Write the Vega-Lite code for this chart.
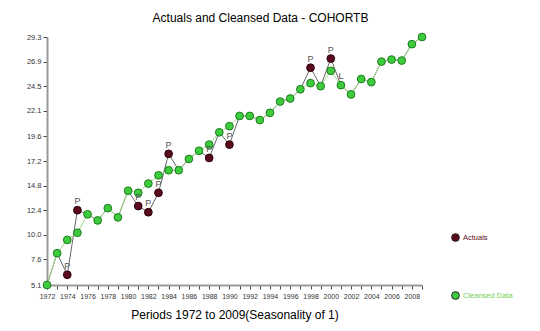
{
  "$schema": "https://vega.github.io/schema/vega-lite/v6.json",
  "width": 375,
  "height": 248,
  "autosize": {"type": "none"},
  "padding": {"left": 47, "top": 37, "right": 118, "bottom": 46},
  "background": "white",
  "title": {"text": "Actuals and Cleansed Data - COHORTB", "fontSize": 12, "fontWeight": "normal", "font": "Liberation Sans", "color": "#000", "anchor": "middle", "dx": 26, "offset": 6},
  "config": {
    "view": {"stroke": null},
    "axis": {"grid": false, "domainColor": "#999", "domainWidth": 2, "tickColor": "#444", "tickSize": 4, "labelFont": "Liberation Sans", "labelFontSize": 7, "labelColor": "#333", "titleFont": "Liberation Sans", "labelOverlap": false, "labelFlush": false}
  },
  "data": {"values": [
    {"year": 1972, "cleansed": 5.1, "actual": 5.1, "flag": ""},
    {"year": 1973, "cleansed": 8.2, "actual": 8.2, "flag": ""},
    {"year": 1974, "cleansed": 9.5, "actual": 6.1, "flag": "P"},
    {"year": 1975, "cleansed": 10.2, "actual": 12.4, "flag": "P"},
    {"year": 1976, "cleansed": 12.0, "actual": 12.0, "flag": ""},
    {"year": 1977, "cleansed": 11.4, "actual": 11.4, "flag": ""},
    {"year": 1978, "cleansed": 12.6, "actual": 12.6, "flag": ""},
    {"year": 1979, "cleansed": 11.7, "actual": 11.7, "flag": ""},
    {"year": 1980, "cleansed": 14.3, "actual": 14.3, "flag": ""},
    {"year": 1981, "cleansed": 14.1, "actual": 12.8, "flag": "P"},
    {"year": 1982, "cleansed": 15.0, "actual": 12.2, "flag": "P"},
    {"year": 1983, "cleansed": 15.8, "actual": 14.1, "flag": "P"},
    {"year": 1984, "cleansed": 16.3, "actual": 17.9, "flag": "P"},
    {"year": 1985, "cleansed": 16.3, "actual": 16.3, "flag": ""},
    {"year": 1986, "cleansed": 17.4, "actual": 17.4, "flag": ""},
    {"year": 1987, "cleansed": 18.2, "actual": 18.2, "flag": ""},
    {"year": 1988, "cleansed": 18.8, "actual": 17.5, "flag": "P"},
    {"year": 1989, "cleansed": 20.0, "actual": 20.0, "flag": ""},
    {"year": 1990, "cleansed": 20.6, "actual": 18.8, "flag": "P"},
    {"year": 1991, "cleansed": 21.6, "actual": 21.6, "flag": ""},
    {"year": 1992, "cleansed": 21.6, "actual": 21.6, "flag": ""},
    {"year": 1993, "cleansed": 21.2, "actual": 21.2, "flag": ""},
    {"year": 1994, "cleansed": 21.9, "actual": 21.9, "flag": ""},
    {"year": 1995, "cleansed": 23.0, "actual": 23.0, "flag": ""},
    {"year": 1996, "cleansed": 23.3, "actual": 23.3, "flag": ""},
    {"year": 1997, "cleansed": 24.2, "actual": 24.2, "flag": ""},
    {"year": 1998, "cleansed": 24.8, "actual": 26.3, "flag": "P"},
    {"year": 1999, "cleansed": 24.5, "actual": 24.5, "flag": ""},
    {"year": 2000, "cleansed": 26.0, "actual": 27.2, "flag": "P"},
    {"year": 2001, "cleansed": 24.6, "actual": 24.6, "flag": "L"},
    {"year": 2002, "cleansed": 23.7, "actual": 23.7, "flag": ""},
    {"year": 2003, "cleansed": 25.2, "actual": 25.2, "flag": ""},
    {"year": 2004, "cleansed": 24.9, "actual": 24.9, "flag": ""},
    {"year": 2005, "cleansed": 26.9, "actual": 26.9, "flag": ""},
    {"year": 2006, "cleansed": 27.1, "actual": 27.1, "flag": ""},
    {"year": 2007, "cleansed": 27.0, "actual": 27.0, "flag": ""},
    {"year": 2008, "cleansed": 28.6, "actual": 28.6, "flag": ""},
    {"year": 2009, "cleansed": 29.3, "actual": 29.3, "flag": ""}
  ]},
  "encoding": {
    "x": {"field": "year", "type": "quantitative",
      "scale": {"domain": [1972, 2009], "nice": false, "zero": false},
      "axis": {"values": [1972,1973,1974,1975,1976,1977,1978,1979,1980,1981,1982,1983,1984,1985,1986,1987,1988,1989,1990,1991,1992,1993,1994,1995,1996,1997,1998,1999,2000,2001,2002,2003,2004,2005,2006,2007,2008,2009],
        "tickCount": 60,
        "labelExpr": "datum.value % 2 == 0 ? format(datum.value, 'd') : ''",
        "labelPadding": 3, "labelOverlap": false, "labelFlush": false,
        "title": "Periods 1972 to 2009(Seasonality of 1)", "titleFontSize": 12, "titleFontWeight": "normal", "titleColor": "#000", "titlePadding": 10}
    }
  },
  "layer": [
    {
      "mark": {"type": "line", "color": "#666", "strokeWidth": 1},
      "encoding": {
        "y": {"field": "actual", "type": "quantitative",
          "scale": {"domain": [5.1, 29.3], "nice": false, "zero": false},
          "axis": {"values": [5.1, 7.6, 10.0, 12.4, 14.8, 17.2, 19.6, 22.1, 24.5, 26.9, 29.3], "tickCount": 20, "format": ".1f", "title": null, "labelPadding": 2, "labelOverlap": false, "labelFlush": false, "labelFontSize": 7.5}}
      }
    },
    {
      "mark": {"type": "line", "color": "#9edc8a", "strokeWidth": 1},
      "encoding": {"y": {"field": "cleansed", "type": "quantitative"}}
    },
    {
      "mark": {"type": "circle", "size": 60, "opacity": 1, "stroke": "#1f7a1f", "strokeWidth": 1},
      "encoding": {
        "y": {"field": "cleansed", "type": "quantitative"},
        "color": {"datum": "Cleansed Data", "type": "nominal",
          "scale": {"domain": ["Actuals", "Cleansed Data"], "range": ["#5c0b1e", "#3ccc3c"]},
          "legend": {"orient": "none", "legendX": 404, "legendY": 196, "title": null, "rowPadding": 45,
            "labelFontSize": 7.5, "labelFont": "Liberation Sans", "symbolType": "circle", "symbolSize": 60,
            "symbolStrokeColor": "#222", "symbolStrokeWidth": 1, "symbolOpacity": 1, "labelOffset": 3,
            "encode": {"labels": {"update": {"fill": {"signal": "datum.label === 'Actuals' ? '#5c0b1e' : '#6fd04f'"}}}}}
        }
      }
    },
    {
      "transform": [{"filter": "datum.flag === 'P'"}],
      "mark": {"type": "circle", "size": 60, "opacity": 1, "stroke": "#2a0008", "strokeWidth": 1},
      "encoding": {
        "y": {"field": "actual", "type": "quantitative"},
        "color": {"datum": "Actuals", "type": "nominal"}
      }
    },
    {
      "transform": [{"filter": "datum.flag !== ''"}],
      "mark": {"type": "text", "fontSize": 9, "font": "Liberation Sans", "color": "#555", "dy": -9},
      "encoding": {
        "y": {"field": "actual", "type": "quantitative"},
        "text": {"field": "flag"}
      }
    }
  ]
}
